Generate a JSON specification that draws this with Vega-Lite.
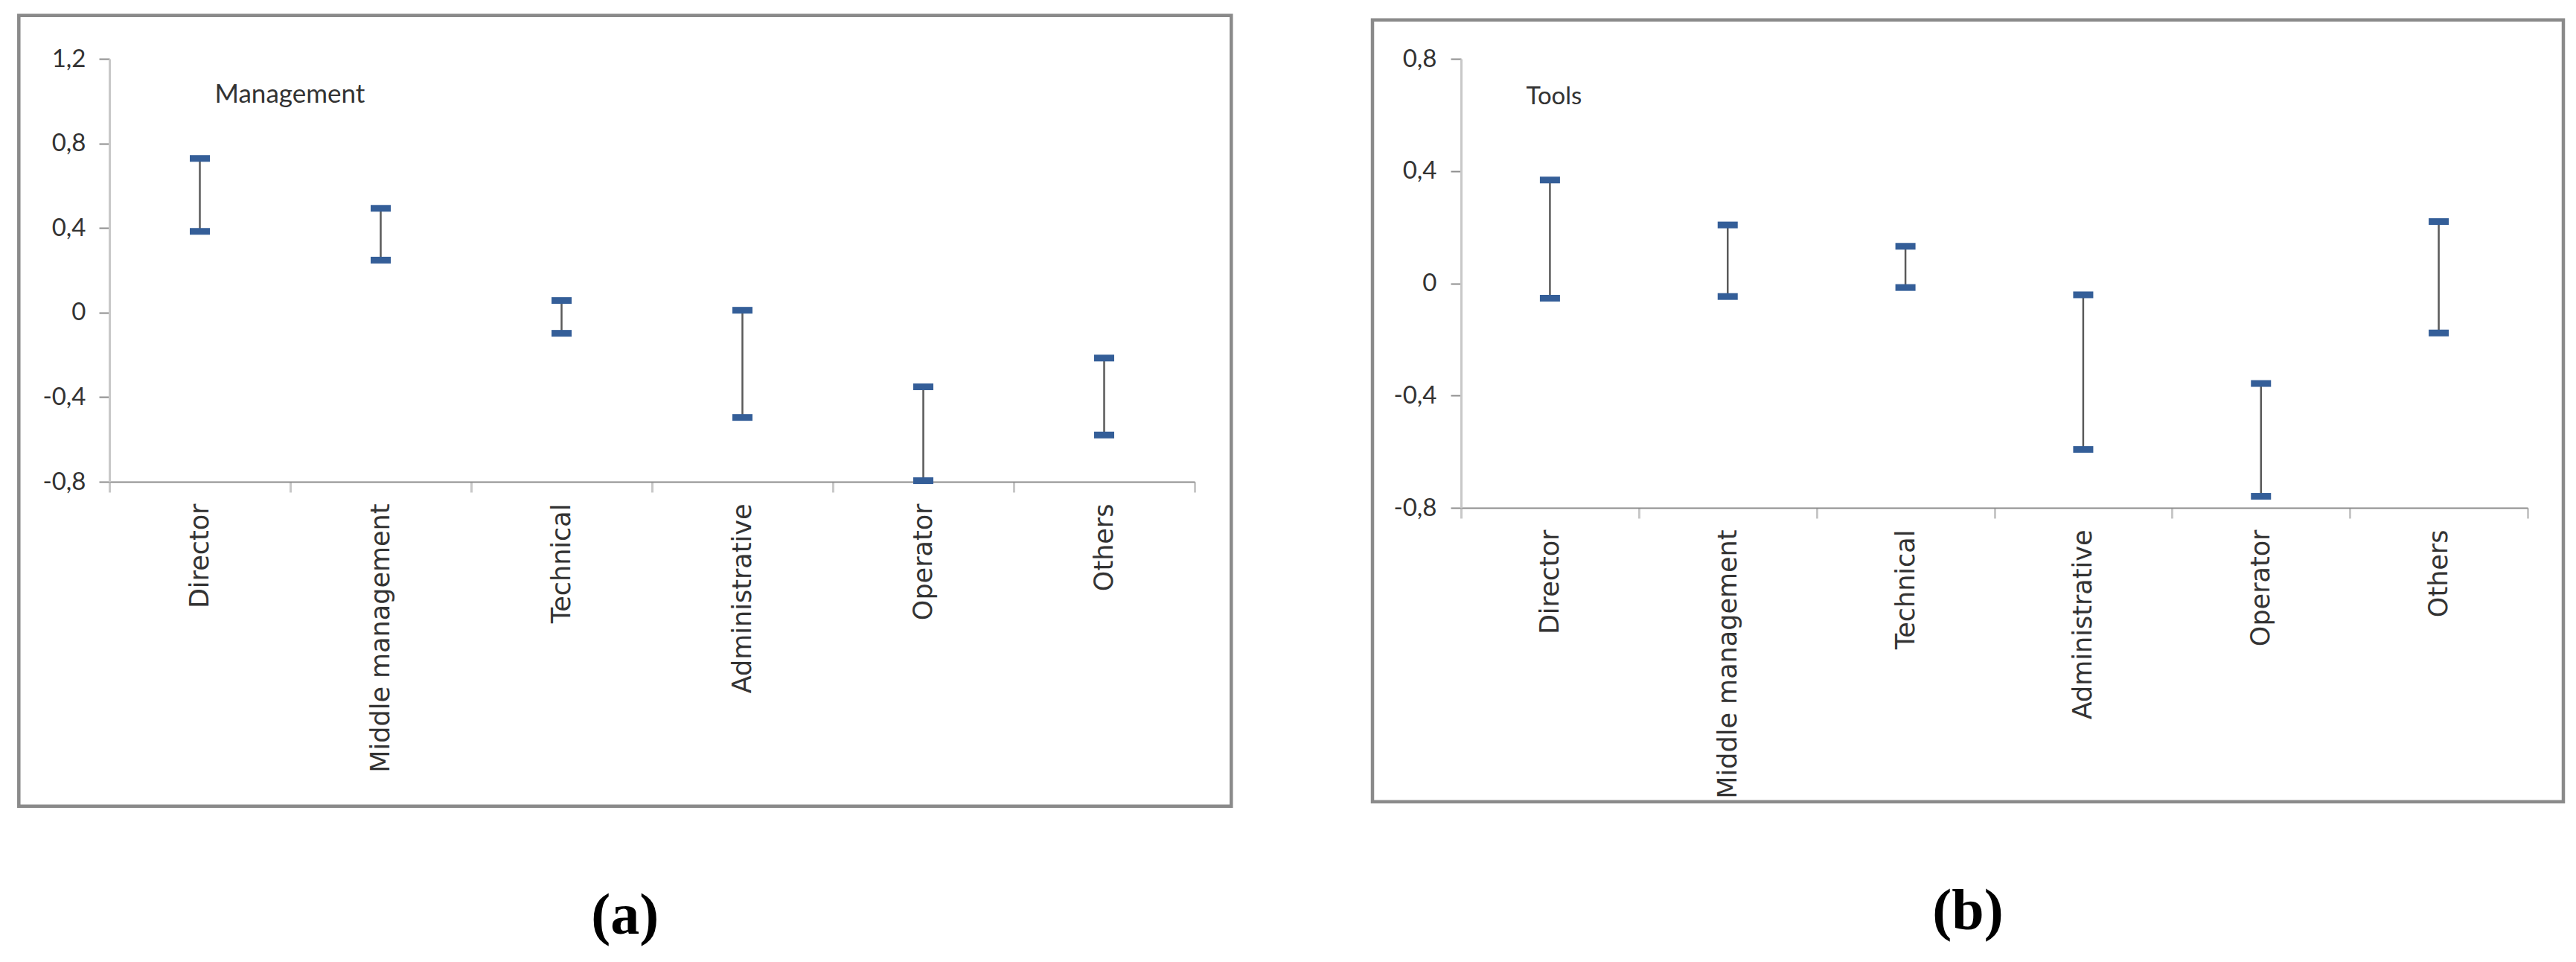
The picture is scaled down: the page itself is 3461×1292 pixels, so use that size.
{
  "$schema": "https://vega.github.io/schema/vega-lite/v6.json",
  "padding": {"left": 23, "top": 18, "right": 5, "bottom": 5},
  "background": "white",
  "datasets": {
    "ranges": [
      {"panel": "a", "role": "Director", "lo": 0.384, "hi": 0.729},
      {"panel": "a", "role": "Middle management", "lo": 0.248, "hi": 0.493},
      {"panel": "a", "role": "Technical", "lo": -0.098, "hi": 0.057},
      {"panel": "a", "role": "Administrative", "lo": -0.496, "hi": 0.011},
      {"panel": "a", "role": "Operator", "lo": -0.795, "hi": -0.351},
      {"panel": "a", "role": "Others", "lo": -0.579, "hi": -0.215},
      {"panel": "b", "role": "Director", "lo": -0.053, "hi": 0.368},
      {"panel": "b", "role": "Middle management", "lo": -0.047, "hi": 0.208},
      {"panel": "b", "role": "Technical", "lo": -0.015, "hi": 0.132},
      {"panel": "b", "role": "Administrative", "lo": -0.592, "hi": -0.041},
      {"panel": "b", "role": "Operator", "lo": -0.759, "hi": -0.357},
      {"panel": "b", "role": "Others", "lo": -0.177, "hi": 0.22}
    ]
  },
  "data": {"name": "ranges"},
  "spacing": 184,
  "hconcat": [
    {
      "width": 1458,
      "height": 568,
      "title": {"text": "(a)", "orient": "bottom", "anchor": "middle", "frame": "bounds", "baseline": "alphabetic", "offset": 169},
      "layer": [
        {
          "data": {"values": [{}]},
          "mark": {"type": "rect", "filled": false, "stroke": "#8a8a8a", "strokeWidth": 4.5, "clip": false},
          "encoding": {
            "x": {"datum": 0, "type": "quantitative", "scale": {"domain": [0, 1], "range": [-121.7, 1507.3]}, "axis": null},
            "x2": {"datum": 1},
            "y": {"datum": 0, "type": "quantitative", "scale": {"domain": [0, 1], "range": [1003.7, -58.3]}, "axis": null},
            "y2": {"datum": 1}
          }
        },
        {
          "transform": [{"filter": "datum.panel == 'a'"}],
          "encoding": {
            "x": {
              "field": "role",
              "type": "nominal",
              "sort": null,
              "scale": {"type": "band", "paddingInner": 0, "paddingOuter": 0},
              "axis": {"tickBand": "extent", "labelLimit": 0, "labelFont": "DejaVu Sans"}
            }
          },
          "layer": [
            {
              "mark": {"type": "rule", "color": "#5a5a5a", "strokeWidth": 2.5},
              "encoding": {
                "y": {
                  "field": "lo",
                  "type": "quantitative",
                  "scale": {"domain": [-0.8, 1.2], "nice": false, "zero": false},
                  "axis": {"values": [-0.8, -0.4, 0, 0.4, 0.8, 1.2]}
                },
                "y2": {"field": "hi"}
              }
            },
            {
              "mark": {"type": "tick", "color": "#345e98", "thickness": 9, "opacity": 1},
              "encoding": {"y": {"field": "lo", "type": "quantitative"}, "size": {"value": 27}}
            },
            {
              "mark": {"type": "tick", "color": "#345e98", "thickness": 9, "opacity": 1},
              "encoding": {"y": {"field": "hi", "type": "quantitative"}, "size": {"value": 27}}
            },
            {
              "transform": [{"filter": "datum.role == 'Director'"}],
              "mark": {"type": "text", "align": "left", "baseline": "alphabetic", "dx": 20, "font": "Lato", "fontSize": 35, "color": "#333333"},
              "encoding": {"y": {"datum": 0.993}, "text": {"value": "Management"}}
            }
          ]
        }
      ],
      "resolve": {"scale": {"x": "independent", "y": "independent"}}
    },
    {
      "width": 1433,
      "height": 603,
      "title": {"text": "(b)", "orient": "bottom", "anchor": "middle", "frame": "bounds", "baseline": "alphabetic", "offset": 169},
      "layer": [
        {
          "data": {"values": [{}]},
          "mark": {"type": "rect", "filled": false, "stroke": "#8a8a8a", "strokeWidth": 4.5, "clip": false},
          "encoding": {
            "x": {"datum": 0, "type": "quantitative", "scale": {"domain": [0, 1], "range": [-119, 1481]}, "axis": null},
            "x2": {"datum": 1},
            "y": {"datum": 0, "type": "quantitative", "scale": {"domain": [0, 1], "range": [997.7, -52.3]}, "axis": null},
            "y2": {"datum": 1}
          }
        },
        {
          "transform": [{"filter": "datum.panel == 'b'"}],
          "encoding": {
            "x": {
              "field": "role",
              "type": "nominal",
              "sort": null,
              "scale": {"type": "band", "paddingInner": 0, "paddingOuter": 0},
              "axis": {"tickBand": "extent", "labelLimit": 0, "labelFont": "DejaVu Sans"}
            }
          },
          "layer": [
            {
              "mark": {"type": "rule", "color": "#5a5a5a", "strokeWidth": 2.5},
              "encoding": {
                "y": {
                  "field": "lo",
                  "type": "quantitative",
                  "scale": {"domain": [-0.8, 0.8], "nice": false, "zero": false},
                  "axis": {"values": [-0.8, -0.4, 0, 0.4, 0.8], "labelPadding": 19}
                },
                "y2": {"field": "hi"}
              }
            },
            {
              "mark": {"type": "tick", "color": "#345e98", "thickness": 9, "opacity": 1},
              "encoding": {"y": {"field": "lo", "type": "quantitative"}, "size": {"value": 27}}
            },
            {
              "mark": {"type": "tick", "color": "#345e98", "thickness": 9, "opacity": 1},
              "encoding": {"y": {"field": "hi", "type": "quantitative"}, "size": {"value": 27}}
            },
            {
              "transform": [{"filter": "datum.role == 'Director'"}],
              "mark": {"type": "text", "align": "left", "baseline": "alphabetic", "dx": -32, "font": "Lato", "fontSize": 33, "color": "#333333"},
              "encoding": {"y": {"datum": 0.637}, "text": {"value": "Tools"}}
            }
          ]
        }
      ],
      "resolve": {"scale": {"x": "independent", "y": "independent"}}
    }
  ],
  "config": {
    "view": {"stroke": null},
    "title": {"font": "Liberation Serif", "fontSize": 78, "fontWeight": "bold", "color": "#000000"},
    "axisY": {
      "title": null,
      "grid": true,
      "gridColor": "#8c8c8c",
      "gridWidth": 2,
      "domainColor": "#c8c8c8",
      "domainWidth": 3,
      "tickColor": "#8c8c8c",
      "tickWidth": 2,
      "tickSize": 14,
      "labelPadding": 18,
      "labelFont": "Lato",
      "labelFontSize": 33,
      "labelColor": "#333333",
      "labelExpr": "datum.value == 0 ? '0' : (datum.value < 0 ? '-' : '') + replace(format(abs(datum.value), '.1f'), '.', ',')"
    },
    "axisX": {
      "title": null,
      "grid": false,
      "labelAngle": -90,
      "labelFont": "DejaVu Sans",
      "labelFontSize": 35,
      "labelLimit": 0,
      "labelColor": "#333333",
      "labelPadding": 15,
      "tickColor": "#c8c8c8",
      "tickWidth": 3,
      "tickSize": 14,
      "domainColor": "#8c8c8c",
      "domainWidth": 2
    }
  }
}
